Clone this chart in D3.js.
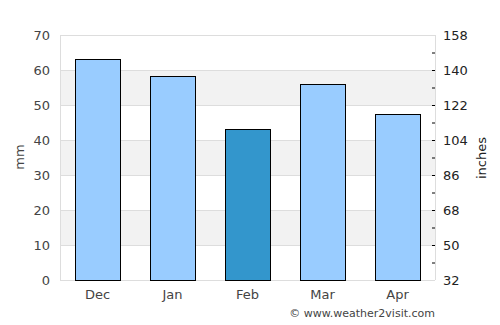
<!DOCTYPE html>
<html><head><meta charset="utf-8">
<script src="https://cdn.jsdelivr.net/npm/d3@7"></script>
<style>body{margin:0;background:#fff}text{font-family:"DejaVu Sans",sans-serif}</style>
</head><body><svg id="c" width="500" height="325"></svg>
<script>
const months = ["Dec","Jan","Feb","Mar","Apr"];
const rainfall = [63.1, 58.2, 43.1, 56.0, 47.4];
const highlight = "Feb";
const leftTicks = [0,10,20,30,40,50,60,70];
const rightTicks = [32,50,68,86,104,122,140,158];

const svg = d3.select("#c");
const m = {l:60, r:435, t:35, b:280};
const x = d3.scaleBand().domain(months).range([m.l, m.r]).paddingInner(0.4).paddingOuter(0.2);
const y = d3.scaleLinear().domain([0,70]).range([m.b, m.t]);
const y2 = d3.scaleLinear().domain([32,158]).range([m.b, m.t]);

// bands
for (let v = 10; v < 70; v += 20) {
  svg.append("rect").attr("x", m.l).attr("width", m.r - m.l)
    .attr("y", y(v+10)).attr("height", y(v) - y(v+10)).attr("fill", "#f2f2f2");
}
// grid
svg.selectAll("line.g").data(leftTicks).join("line")
  .attr("x1", m.l).attr("x2", m.r).attr("y1", d=>y(d)+0.5).attr("y2", d=>y(d)+0.5)
  .attr("stroke", "#ddd");
svg.append("line").attr("x1", m.l+0.5).attr("x2", m.l+0.5).attr("y1", m.t).attr("y2", m.b).attr("stroke","#ddd");
svg.append("line").attr("x1", m.r+0.5).attr("x2", m.r+0.5).attr("y1", m.t).attr("y2", m.b).attr("stroke","#ddd");

// bars
svg.selectAll("rect.bar").data(months).join("rect")
  .attr("x", d=>Math.round(x(d))+0.5).attr("width", Math.round(x.bandwidth()))
  .attr("y", (d,i)=>Math.round(y(rainfall[i]))+0.5)
  .attr("height", (d,i)=>m.b - Math.round(y(rainfall[i])))
  .attr("fill", d=> d===highlight ? "#3396cc" : "#99ccff")
  .attr("stroke", "#000").attr("stroke-width", 1);

// left labels
svg.selectAll("text.l").data(leftTicks).join("text")
  .attr("x", 50).attr("y", d=>y(d)).attr("dy","0.35em").attr("text-anchor","end")
  .attr("font-size", 13).attr("fill","#444").text(d=>d);
// right ticks
const minor = d3.range(0,7).map(i=>32+9+i*18);
svg.selectAll("line.mt").data(minor).join("line")
  .attr("x1", m.r-3).attr("x2", m.r).attr("y1", d=>y2(d)+0.5).attr("y2", d=>y2(d)+0.5).attr("stroke","#000");
svg.selectAll("line.rt").data(rightTicks.filter(d=>d!==32 && d!==158)).join("line")
  .attr("x1", m.r-3).attr("x2", m.r).attr("y1", d=>y2(d)+0.5).attr("y2", d=>y2(d)+0.5).attr("stroke","#000");
svg.selectAll("text.r").data(rightTicks).join("text")
  .attr("x", 443).attr("y", d=>y2(d)).attr("dy","0.35em").attr("text-anchor","start")
  .attr("font-size", 13).attr("fill","#222").text(d=>d);
// x labels
svg.selectAll("text.x").data(months).join("text")
  .attr("x", d=>x(d)+x.bandwidth()/2).attr("y", 299).attr("text-anchor","middle")
  .attr("font-size", 13).attr("fill","#444").text(d=>d);
// axis titles
svg.append("text").attr("transform","translate(24,157) rotate(-90)").attr("text-anchor","middle")
  .attr("font-size", 13).attr("fill","#444").text("mm");
svg.append("text").attr("transform","translate(486,158) rotate(-90)").attr("text-anchor","middle")
  .attr("font-size", 13).attr("fill","#222").text("inches");
svg.append("text").attr("x", 435).attr("y", 317).attr("text-anchor","end")
  .attr("font-size", 11).attr("fill","#444").text("© www.weather2visit.com");
</script></body></html>
